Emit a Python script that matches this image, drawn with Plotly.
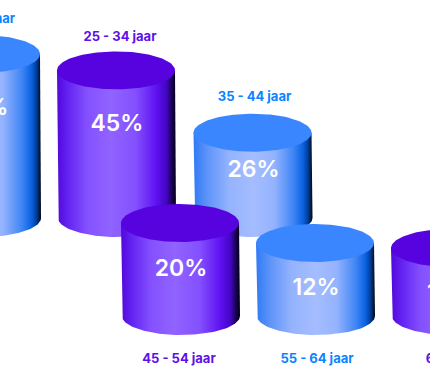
import numpy as np
import plotly.graph_objects as go

# ---- data ----
categories = ["18 - 24 jaar", "25 - 34 jaar", "35 - 44 jaar", "45 - 54 jaar", "55 - 64 jaar", "65+ jaar"]
values = [50, 45, 26, 20, 12, 10]

# ---- layout of the infographic ----
centers = [-19, 116, 252.5, 180, 315, 450]
rows = [0, 0, 0, 1, 1, 1]            # 0 = back row, 1 = front row
row_base = [218, 316]                # y of body bottom edge
row_scale = [3.28, 2.5]              # px per percent point
row_offset = [0, 43]                 # px added to each body
text_dy = [55, 55, 39, 47, 46, 46]
label_dx = [-1, 4, 2, -1, 2, 2]
label_gap = [15, 14, 16, 0, 0, 0]
RX, RY = 59, 19

BLUE = dict(top="#3a86ff", label="#0a84ff",
            scale=[[0, "#2f7af6"], [0.12, "#5f94f9"], [0.3, "#94b3fe"], [0.5, "#a5bdff"], [0.68, "#94b3fe"],
                   [0.84, "#3f85f5"], [0.92, "#0a62e0"], [0.96, "#003f9e"], [1, "#000612"]])
PURPLE = dict(top="#5703e0", label="#5f0fe8",
              scale=[[0, "#5208d8"], [0.08, "#6020f0"], [0.25, "#8450ff"], [0.45, "#9064ff"], [0.66, "#8450ff"],
                     [0.84, "#5e10f0"], [0.92, "#4206c0"], [0.97, "#16024c"], [1, "#02000a"]])
palette = [BLUE, PURPLE, BLUE, PURPLE, BLUE, PURPLE]

fig = go.Figure()
theta_low = np.linspace(np.pi, 0, 80)
theta_all = np.linspace(0, 2 * np.pi, 160)

# back row first, then the front row, as the front overlaps the back
for i in sorted(range(len(values)), key=lambda k: rows[k]):
    r, c, col = rows[i], centers[i], palette[i]
    h = row_offset[r] + row_scale[r] * values[i]
    base = row_base[r]
    ytop = base - h
    bx = c + RX * np.cos(theta_low) + 1
    by = base + RY * np.sin(theta_low)
    xs = [c - RX] + list(bx) + [c + RX, c - RX]
    ys = [ytop] + list(by) + [ytop, ytop]
    fig.add_trace(go.Scatter(
        x=xs, y=ys, mode="lines", fill="toself", line=dict(width=0),
        fillgradient=dict(type="horizontal", colorscale=col["scale"], start=c - RX, stop=c + RX + 1),
        hoverinfo="skip", showlegend=False))
    fig.add_trace(go.Scatter(
        x=c + RX * np.cos(theta_all), y=ytop + RY * np.sin(theta_all),
        mode="lines", fill="toself", fillcolor=col["top"], line=dict(width=0),
        hoverinfo="skip", showlegend=False))
    fig.add_trace(go.Scatter(
        x=[c + 1], y=[ytop + text_dy[i]], mode="text", text=[f"{values[i]}%"],
        textposition="middle center",
        textfont=dict(family="Inter", size=23, color="white", weight=600),
        hoverinfo="skip", showlegend=False))
    label_y = (ytop - RY - label_gap[i]) if r == 0 else 360
    fig.add_trace(go.Scatter(
        x=[c + label_dx[i]], y=[label_y], mode="text", text=[categories[i]],
        textposition="middle center",
        textfont=dict(family="Inter", size=13, color=col["label"], weight=700),
        hoverinfo="skip", showlegend=False))

fig.update_layout(
    width=430, height=374, margin=dict(l=0, r=0, t=0, b=0),
    paper_bgcolor="white", plot_bgcolor="white", showlegend=False,
    xaxis=dict(range=[0, 430], visible=False, fixedrange=True),
    yaxis=dict(range=[374, 0], visible=False, fixedrange=True),
)
fig.write_html("out.html", config={"displayModeBar": False},
               post_script="document.body.style.margin='0';document.body.style.overflow='hidden';")
